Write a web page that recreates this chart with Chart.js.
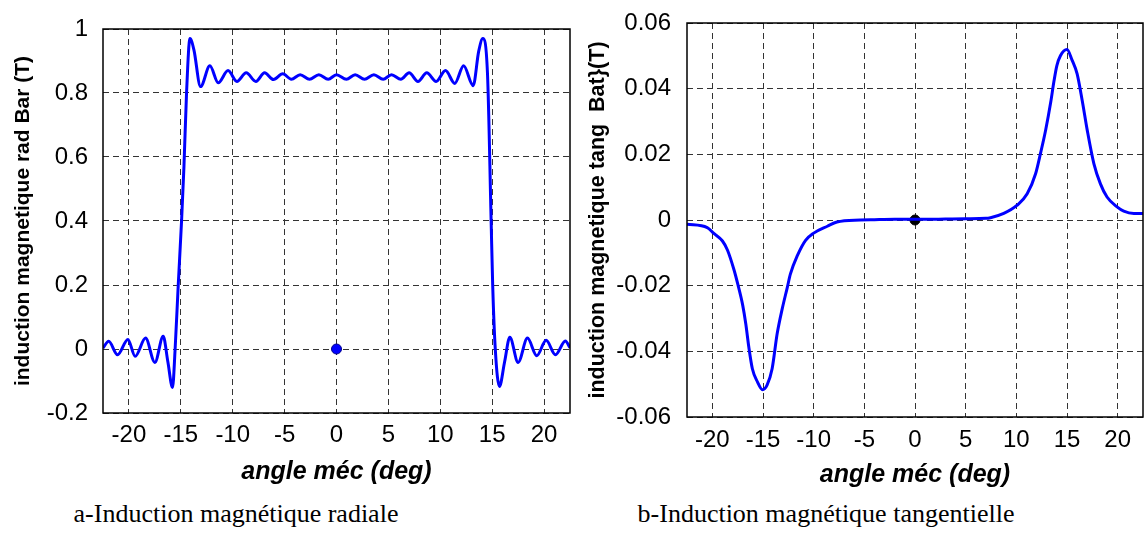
<!DOCTYPE html>
<html lang="fr">
<head>
<meta charset="UTF-8">
<title>Induction magnétique</title>
<script src="https://cdn.jsdelivr.net/npm/chart.js"></script>
<style>
    body { margin: 0; background: white; width: 1144px; height: 540px; position: relative; overflow: hidden; }
    canvas { position: absolute; top: 0; }
    #radChart { left: 0; }
    #tangChart { left: 575px; }
    .caption { position: absolute; top: 499px; font-family: "Liberation Serif", "Times New Roman", serif; font-size: 26px; color: black; white-space: nowrap; transform: translateX(-50%); }
</style>
</head>
<body>
<canvas id="radChart" width="574" height="490"></canvas>
<canvas id="tangChart" width="569" height="490"></canvas>
<div class="caption" style="left:236px">a-Induction magnétique radiale</div>
<div class="caption" style="left:826px">b-Induction magnétique tangentielle</div>

<script>
// angle values (deg) and radial induction (T)
const radX = [-22.5, -21.95, -21.1, -20.1, -19.4, -18.4, -17.5, -16.7, -16.25, -15.8, -15.55, -15.25, -14.93, -14.7, -14.45, -14.12, -13.74, -13.1,
    -12.2, -11.4, -10.45, -9.6, -8.7, -7.77, -6.93, -6.07, -5.18, -4.35, -3.5, -2.6, -1.7, -0.8, 0, 0.95, 1.8, 2.7, 3.6, 4.5, 5.3, 6.2,
    7.0, 7.85, 8.7, 9.6, 10.5, 11.4, 12.25, 13.17, 13.7, 14.1, 14.55, 14.9, 15.05, 15.3, 15.7, 16.2, 16.7, 17.5, 18.4, 19.3, 20.2, 21.1, 22.05, 22.5];
const radY = [0.003, 0.024, -0.018, 0.03, -0.023, 0.034, -0.042, 0.04, -0.04, -0.12, 0.0, 0.2, 0.4, 0.57, 0.8, 0.97, 0.935, 0.82,
    0.885, 0.832, 0.87, 0.836, 0.863, 0.836, 0.863, 0.842, 0.86, 0.843, 0.857, 0.843, 0.857, 0.843, 0.857, 0.843, 0.857, 0.843, 0.857, 0.843, 0.857, 0.843,
    0.863, 0.836, 0.863, 0.836, 0.87, 0.83, 0.885, 0.823, 0.93, 0.97, 0.86, 0.4, 0.2, 0.0, -0.117, -0.04, 0.037, -0.042, 0.034, -0.021, 0.027, -0.018, 0.025, 0.004];

// angle values (deg) and tangential induction (T)
const tangX = [-22.5, -20.5, -19.85, -19.0, -18.5, -17.85, -17.5, -17.0, -16.7, -16.4, -16.05, -15.55, -15.05, -14.6, -14.1, -13.6, -13.1, -12.6, -12.3,
    -11.6, -10.8, -10.0, -8.65, -7.7, -5.4, -4, -2, 1, 3, 5, 7, 7.45, 8.76, 10.08, 11.07, 11.9, 12.4, 12.9, 13.4, 13.7, 14.0, 14.35, 15.0, 15.5, 16.0,
    16.5, 17.0, 17.65, 18.3, 18.95, 19.94, 20.6, 21.6, 22.5];
const tangY = [-0.0013, -0.0023, -0.0041, -0.0064, -0.0092, -0.0153, -0.0194, -0.026, -0.0316, -0.0387, -0.0453, -0.0493, -0.0517, -0.0503, -0.0453, -0.0346, -0.027, -0.0205, -0.0165,
    -0.0108, -0.0062, -0.004, -0.0019, -0.0006, 0, 0.0001, 0.0002, 0.0002, 0.0003, 0.0004, 0.0005, 0.0007, 0.002, 0.0045, 0.008, 0.0141, 0.0205, 0.0275, 0.036, 0.042, 0.047, 0.0500, 0.0519, 0.0487, 0.0445,
    0.0364, 0.0273, 0.0172, 0.011, 0.007, 0.004, 0.0027, 0.002, 0.002];

const xTicks = [-20, -15, -10, -5, 0, 5, 10, 15, 20];
const radTicks = [-0.2, 0, 0.2, 0.4, 0.6, 0.8, 1];
const radTickLabels = ["-0.2", "0", "0.2", "0.4", "0.6", "0.8", "1"];
const tangTicks = [-0.06, -0.04, -0.02, 0, 0.02, 0.04, 0.06];
const tangTickLabels = ["-0.06", "-0.04", "-0.02", "0", "0.02", "0.04", "0.06"];

const FONT = "'Liberation Sans', Arial, sans-serif";

const frame = {
    id: "frame",
    afterDatasetsDraw(chart) {
        const a = chart.chartArea, ctx = chart.ctx;
        ctx.save();
        ctx.strokeStyle = "#000";
        ctx.lineWidth = 1.5;
        ctx.strokeRect(a.left, a.top, a.right - a.left, a.bottom - a.top);
        ctx.restore();
    }
};

function makeChart(id, xs, ys, yTicks, yLabels, yMin, yMax, yTitle, cfg) {
    const pts = xs.map((x, i) => ({ x: x, y: ys[i] }));
    return new Chart(document.getElementById(id), {
        type: "line",
        data: {
            datasets: [{
                data: pts,
                borderColor: "#0000ff",
                borderWidth: 3,
                pointRadius: 0,
                cubicInterpolationMode: "monotone"
            }, {
                data: [{ x: 0, y: 0 }],
                showLine: false,
                pointRadius: 5,
                pointBackgroundColor: cfg.dot,
                pointBorderColor: cfg.dotBorder,
                pointBorderWidth: 1
            }]
        },
        options: {
            responsive: false,
            animation: false,
            layout: { autoPadding: false, padding: { top: cfg.top, right: cfg.right, left: 0, bottom: 0 } },
            plugins: { legend: { display: false }, tooltip: { enabled: false } },
            scales: {
                x: {
                    type: "linear", min: -22.5, max: 22.5,
                    afterBuildTicks: s => { s.ticks = xTicks.map(v => ({ value: v })); },
                    afterFit: s => { s.height = cfg.xHeight; s.paddingLeft = 0; s.paddingRight = 0; },
                    grid: { color: "#333", lineWidth: 1, drawTicks: false },
                    border: { display: false, dash: [6, 4] },
                    ticks: { color: "#000", font: { family: FONT, size: 24 }, padding: cfg.xPad, maxRotation: 0, autoSkip: false },
                    title: { display: true, text: "angle méc (deg)", color: "#000",
                        font: { family: FONT, size: 25, weight: "bold", style: "italic" },
                        padding: { top: 0, bottom: cfg.xTitlePad } }
                },
                y: {
                    type: "linear", min: yMin, max: yMax,
                    afterBuildTicks: s => { s.ticks = yTicks.map(v => ({ value: v })); },
                    afterFit: s => { s.width = cfg.yWidth; s.paddingTop = 0; s.paddingBottom = 0; },
                    grid: { color: "#333", lineWidth: 1, drawTicks: false },
                    border: { display: false, dash: [6, 4] },
                    ticks: { color: "#000", font: { family: FONT, size: 24 }, padding: cfg.yPad,
                        callback: (v, i) => yLabels[i] },
                    title: { display: true, text: yTitle, color: "#000",
                        font: { family: FONT, size: cfg.yTitleSize, weight: "bold" },
                        padding: { top: cfg.yTitlePad, bottom: 0 } }
                }
            }
        },
        plugins: [frame]
    });
}

makeChart("radChart", radX, radY, radTicks, radTickLabels, -0.2, 1,
    "induction magnetique rad Bar (T)",
    { top: 29, right: 4, xHeight: 77, yWidth: 103, xPad: 8, yPad: 15, xTitlePad: 3, yTitlePad: 11, yTitleSize: 21, dot: "#0000ff", dotBorder: "#00008b" });

makeChart("tangChart", tangX, tangY, tangTicks, tangTickLabels, -0.06, 0.06,
    "induction magnetique tang  Bat}(T)",
    { top: 23, right: 1, xHeight: 73, yWidth: 112, xPad: 9, yPad: 16, xTitlePad: 0, yTitlePad: 10, yTitleSize: 21.5, dot: "#000000", dotBorder: "#000000" });
</script>
</body>
</html>
